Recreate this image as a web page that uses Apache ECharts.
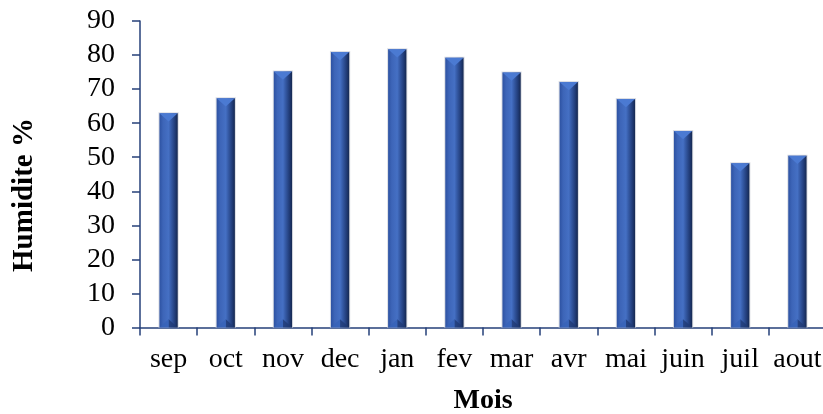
<!DOCTYPE html>
<html>
<head>
<meta charset="utf-8">
<script src="https://cdn.jsdelivr.net/npm/echarts@6/dist/echarts.min.js"></script>
<style>
  html, body { margin: 0; padding: 0; background: #ffffff; }
  #chart { width: 823px; height: 414px; }
</style>
</head>
<body>
<div id="chart"></div>
<script>
// Monthly mean relative humidity (%)
const months = ['sep', 'oct', 'nov', 'dec', 'jan', 'fev', 'mar', 'avr', 'mai', 'juin', 'juil', 'aout'];
const humidity = [62.9, 67.3, 75.2, 80.9, 81.7, 79.2, 74.9, 72.1, 67.1, 57.7, 48.2, 50.4];
const yTicks = { min: 0, max: 90, interval: 10 };

const FONT = '"Liberation Serif", "Times New Roman", serif';
const AXIS_COLOR = '#26407a';

// Bevelled bar: gradient body, lighter chevron on top, darker bevel at the base
function renderBevelBar(params, api) {
  const topPt = api.coord([api.value(0), api.value(1)]);
  const basePt = api.coord([api.value(0), 0]);
  const bandW = api.size([1, 0])[0];
  const w = bandW * 0.32;
  const left = topPt[0] - w / 2;
  const right = topPt[0] + w / 2;
  const top = topPt[1];
  const bottom = basePt[1];
  const b = Math.min(w * 0.45, (bottom - top) / 2);

  const bodyFill = new echarts.graphic.LinearGradient(0, 0, 1, 0, [
    { offset: 0, color: '#2d52a2' },
    { offset: 0.2, color: '#3d65b8' },
    { offset: 0.5, color: '#4570c4' },
    { offset: 0.62, color: '#375daa' },
    { offset: 0.85, color: '#213c78' },
    { offset: 1, color: '#152850' }
  ]);

  return {
    type: 'group',
    children: [
      {
        type: 'rect',
        shape: { x: left - 1, y: top - 1, width: w + 2, height: bottom - top + 1 },
        style: { fill: '#dcdee4' }
      },
      {
        type: 'rect',
        shape: { x: left, y: top, width: w, height: bottom - top },
        style: { fill: bodyFill }
      },
      {
        type: 'polygon',
        shape: { points: [[left, top], [right, top], [topPt[0], top + b]] },
        style: { fill: '#4b7ad2' }
      },
      {
        type: 'polygon',
        shape: { points: [[left + w * 0.5, bottom - b], [right, bottom], [left + w * 0.5, bottom]] },
        style: { fill: '#1f3a74', opacity: 0.8 }
      },
      {
        type: 'polygon',
        shape: { points: [[left, bottom], [left + w * 0.5, bottom - b], [left + w * 0.5, bottom]] },
        style: { fill: '#3763b8', opacity: 0.8 }
      }
    ]
  };
}

const chart = echarts.init(document.getElementById('chart'), null, { renderer: 'canvas' });

chart.setOption({
  animation: false,
  backgroundColor: '#ffffff',
  grid: { left: 140, top: 21, width: 686, bottom: 86.5, containLabel: false, outerBoundsMode: 'none' },
  // Vertical axis title, placed beside the value labels
  graphic: [{
    type: 'text',
    x: 25,
    y: 195,
    rotation: Math.PI / 2,
    style: {
      text: 'Humidite %',
      fontFamily: FONT,
      fontSize: 29,
      fontWeight: 'bold',
      fill: '#000000',
      align: 'center',
      verticalAlign: 'middle'
    }
  }],
  xAxis: {
    type: 'category',
    data: months,
    boundaryGap: true,
    name: 'Mois',
    nameLocation: 'middle',
    nameGap: 59,
    nameTextStyle: { fontFamily: FONT, fontSize: 28, fontWeight: 'bold', color: '#000000' },
    axisLine: { show: true, lineStyle: { color: AXIS_COLOR, width: 1.5 } },
    axisTick: { show: true, inside: false, length: 8, lineStyle: { color: AXIS_COLOR, width: 1.5 } },
    axisLabel: { fontFamily: FONT, fontSize: 28, color: '#000000', margin: 18, interval: 0 },
    splitLine: { show: false }
  },
  yAxis: {
    type: 'value',
    min: yTicks.min,
    max: yTicks.max,
    interval: yTicks.interval,
    axisLine: { show: true, lineStyle: { color: AXIS_COLOR, width: 1.5 } },
    axisTick: { show: true, inside: false, length: 8, lineStyle: { color: AXIS_COLOR, width: 1.5 } },
    axisLabel: { fontFamily: FONT, fontSize: 28, color: '#000000', margin: 25 },
    splitLine: { show: false }
  },
  series: [{
    type: 'custom',
    renderItem: renderBevelBar,
    encode: { x: 0, y: 1 },
    data: months.map((m, i) => [i, humidity[i]]),
    z: 1
  }]
});
</script>
</body>
</html>
